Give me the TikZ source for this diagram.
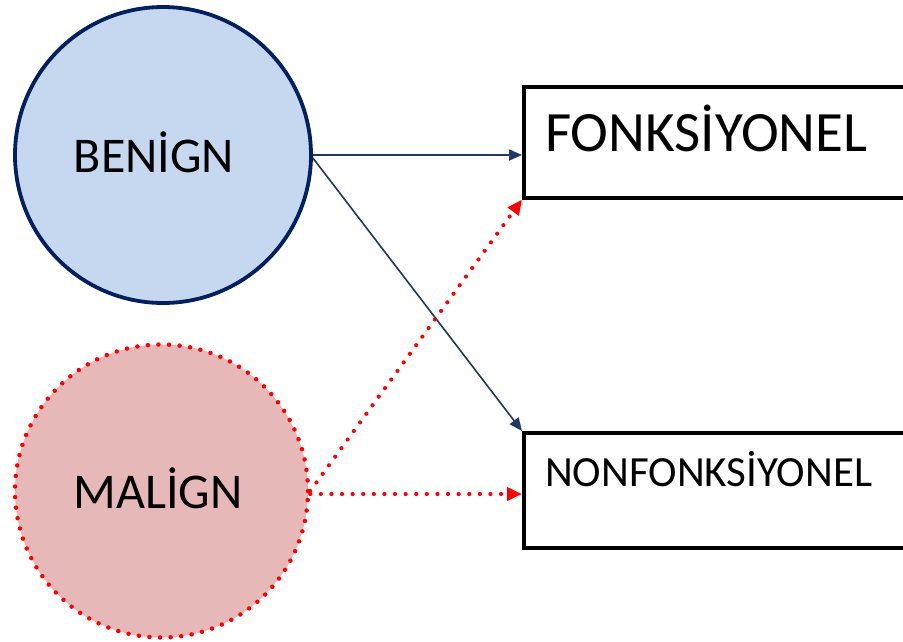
\documentclass[tikz,border=0pt]{standalone}
\usepackage{fontspec}
\setmainfont{Carlito}
\usetikzlibrary{arrows.meta,calc}
\definecolor{navy}{HTML}{002060}
\definecolor{arrnavy}{HTML}{1F3864}
\definecolor{bfill}{HTML}{C5D8EF}
\definecolor{mfill}{HTML}{E6B8B7}
\definecolor{dred}{HTML}{FF0000}
\tikzset{
  benignc/.style={circle, draw=navy, line width=3.8pt, fill=bfill, inner sep=0pt, minimum size=296pt},
  malignc/.style={circle, draw=dred, line width=4.5pt, line cap=round, dash pattern=on 0pt off 10.6pt, fill=mfill, inner sep=0pt, minimum size=293pt},
  circtext/.style={inner sep=0pt, anchor=base, font=\fontsize{50}{60}\selectfont},
  outbox/.style={rectangle, draw=black, line width=3.5pt, fill=white, inner sep=0pt, minimum width=420pt, anchor=north west},
  boxtext/.style={inner sep=0pt, anchor=base west},
  bluearrow/.style={draw=arrnavy, line width=1.6pt, -{Triangle[length=13pt,width=11pt]}},
  redarrow/.style={draw=dred, line width=4.2pt, line cap=round, dash pattern=on 0pt off 10.6pt, -{Triangle[length=15pt,width=13pt, line cap=butt, sep=0pt]}},
}
\begin{document}
\begin{tikzpicture}[x=1pt,y=-1pt]
\useasboundingbox (0,0) rectangle (903,641);
\clip (0,0) rectangle (903,641);
\fill[white] (0,0) rectangle (903,641);
\node[benignc] (benign) at (163,155) {};
\node[circtext] (benigntext) at (154,172) {BENİGN};
\node[malignc] (malign) at (161.5,491) {};
\node[circtext] (maligntext) at (158,508) {MALİGN};
\node[outbox, minimum height=111pt] (fonk) at (522,85) {};
\node[outbox, minimum height=115pt] (nonfonk) at (522,431) {};
\node[boxtext, font=\fontsize{57}{68}\selectfont] (fonktext) at ($(fonk.west)+(23,9)$) {FONKSİYONEL};
\node[boxtext, font=\fontsize{43}{52}\selectfont] (nonfonktext) at ($(nonfonk.west)+(23,-3.5)$) {NONFONKSİYONEL};
\coordinate (bstart) at ($(benign.east)+(0,3)$);
\coordinate (mstart) at ($(malign.east)+(0,3)$);
\draw[bluearrow] (benign.east) -- (benign.east -| fonk.west);
\draw[bluearrow] (bstart) -- (nonfonk.north west);
\draw[redarrow] (malign.east) -- (fonk.south west);
\draw[redarrow] (mstart) -- (mstart -| nonfonk.west);
\end{tikzpicture}
\end{document}
